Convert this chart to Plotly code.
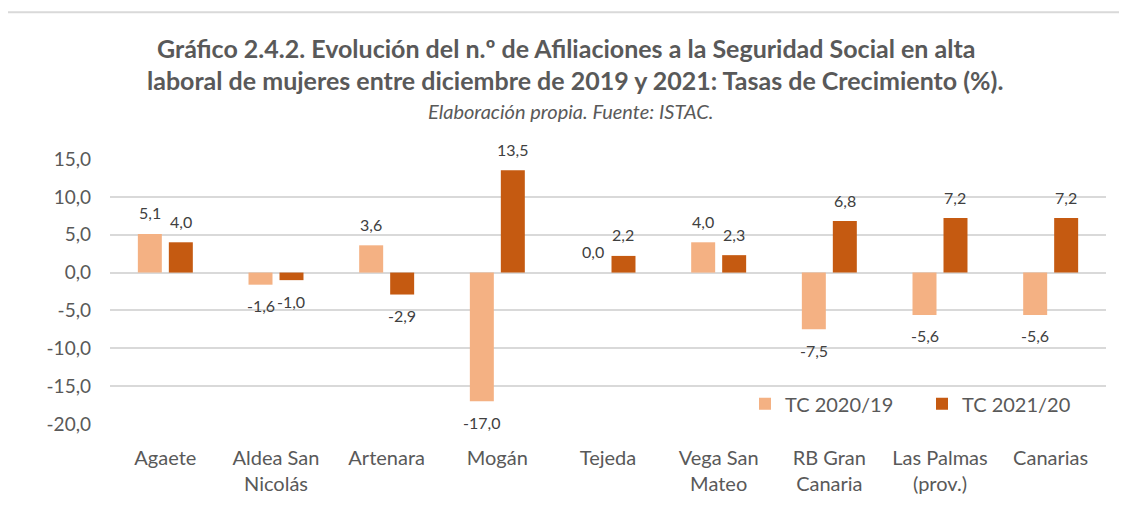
import plotly.graph_objects as go

categories = ["Agaete", "Aldea San<br>Nicolás", "Artenara", "Mogán", "Tejeda",
              "Vega San<br>Mateo", "RB Gran<br>Canaria", "Las Palmas<br>(prov.)", "Canarias"]
tc_2020_19 = [5.1, -1.6, 3.6, -17.0, 0.0, 4.0, -7.5, -5.6, -5.6]
tc_2021_20 = [4.0, -1.0, -2.9, 13.5, 2.2, 2.3, 6.8, 7.2, 7.2]
y_ticks = [15, 10, 5, 0, -5, -10, -15, -20]


def fmt(v):
    return f"{v:.1f}".replace(".", ",")


FONT = "Lato"
TXT = "#404040"
GREY = "#595959"

# page offset (browser body margin)
OFF = 8
W, H = 1127, 529
# plot area in page coordinates
PX0, PX1, PY0, PY1 = 110, 1106, 159, 424.3
L = PX0 - OFF
T = PY0 - OFF
R = W - (PX1 - OFF)
B = H - (PY1 - OFF)
pw, ph = PX1 - PX0, PY1 - PY0

BARGAP = 0.44
GROUPGAP = 0.226
slot = pw / len(categories) * (1 - BARGAP) / 2


def px(x):
    return (x - PX0) / pw


def py(y):
    return (PY1 - y) / ph


fig = go.Figure()
series = [("TC 2020/19", tc_2020_19, "#F4B183", -slot / 2),
          ("TC 2021/20", tc_2021_20, "#C55A11", slot / 2)]
for name, vals, color, shift in series:
    fig.add_trace(go.Bar(
        x=categories, y=vals, name=name,
        marker=dict(color=color, line=dict(width=0)),
    ))
    for cat, v in zip(categories, vals):
        fig.add_annotation(
            x=cat, y=v, xref="x", yref="y", text=fmt(v), showarrow=False,
            xanchor="center", yanchor="middle", xshift=shift,
            yshift=21 if v >= 0 else -21,
            font=dict(size=16, color=TXT, family=FONT),
        )

fig.update_layout(
    width=W, height=H,
    margin=dict(l=L, r=R, t=T, b=B, autoexpand=False),
    paper_bgcolor="white", plot_bgcolor="white",
    barmode="group", bargap=BARGAP, bargroupgap=GROUPGAP,
    font=dict(family=FONT, color=GREY),
    showlegend=True,
    legend=dict(orientation="h", x=px(745), y=py(404), xanchor="left", yanchor="middle",
                font=dict(size=20, color=GREY, family=FONT),
                bgcolor="rgba(0,0,0,0)", entrywidth=132, entrywidthmode="pixels",
                traceorder="normal"),
    xaxis=dict(showgrid=False, showline=False, ticks="", ticklabelstandoff=20,
               tickfont=dict(size=20, color=GREY, family=FONT)),
    yaxis=dict(range=[-20, 15], tickvals=y_ticks, ticktext=[fmt(v) for v in y_ticks],
               showgrid=True, gridcolor="#D9D9D9", gridwidth=1.5,
               zeroline=True, zerolinecolor="#D9D9D9", zerolinewidth=1.5,
               showline=False, ticks="", ticklabelstandoff=18,
               tickfont=dict(size=19, color=GREY, family=FONT)),
)

fig.add_annotation(text="<b>Gráfico 2.4.2. Evolución del n.º de Afiliaciones a la Seguridad Social en alta</b>",
                   xref="paper", yref="paper", x=px(566), y=py(48), showarrow=False,
                   xanchor="center", yanchor="middle",
                   font=dict(size=25, color=GREY, family=FONT))
fig.add_annotation(text="<b>laboral de mujeres entre diciembre de 2019 y 2021: Tasas de Crecimiento (%).</b>",
                   xref="paper", yref="paper", x=px(575), y=py(80), showarrow=False,
                   xanchor="center", yanchor="middle",
                   font=dict(size=25, color=GREY, family=FONT))
fig.add_annotation(text="<i>Elaboración propia. Fuente: ISTAC.</i>",
                   xref="paper", yref="paper", x=px(570), y=py(111), showarrow=False,
                   xanchor="center", yanchor="middle",
                   font=dict(size=20, color=GREY, family=FONT))

# top frame line of the chart area
fig.add_shape(type="line", xref="paper", yref="paper",
              x0=px(OFF), x1=px(W + OFF), y0=py(12), y1=py(12),
              line=dict(color="#D9D9D9", width=2))

fig.write_html("out.html")
